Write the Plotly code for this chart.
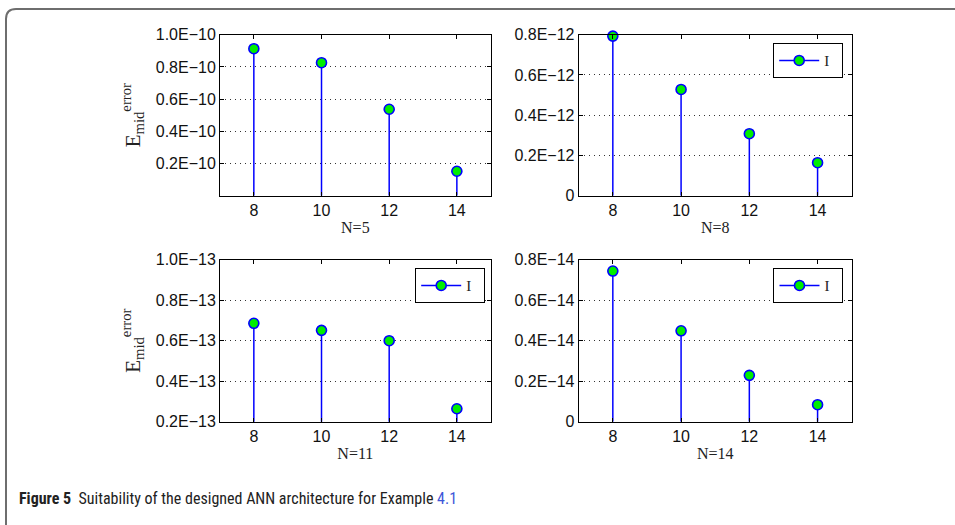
import plotly.graph_objects as go

W, H = 955, 525

# ---------------- data ----------------
N_values = [8, 10, 12, 14]
err_N5 = [0.913e-10, 0.826e-10, 0.537e-10, 0.152e-10]
err_N8 = [0.793e-12, 0.528e-12, 0.308e-12, 0.164e-12]
err_N11 = [0.686e-13, 0.651e-13, 0.600e-13, 0.264e-13]
err_N14 = [0.744e-14, 0.449e-14, 0.229e-14, 0.084e-14]

ticks_N5 = [0.2e-10, 0.4e-10, 0.6e-10, 0.8e-10, 1.0e-10]
ticklabels_N5 = ["0.2E−10", "0.4E−10", "0.6E−10", "0.8E−10", "1.0E−10"]
ticks_N8 = [0, 0.2e-12, 0.4e-12, 0.6e-12, 0.8e-12]
ticklabels_N8 = ["0", "0.2E−12", "0.4E−12", "0.6E−12", "0.8E−12"]
ticks_N11 = [0.2e-13, 0.4e-13, 0.6e-13, 0.8e-13, 1.0e-13]
ticklabels_N11 = ["0.2E−13", "0.4E−13", "0.6E−13", "0.8E−13", "1.0E−13"]
ticks_N14 = [0, 0.2e-14, 0.4e-14, 0.6e-14, 0.8e-14]
ticklabels_N14 = ["0", "0.2E−14", "0.4E−14", "0.6E−14", "0.8E−14"]

x_ticks = [8, 10, 12, 14]
panel_titles = ["N=5", "N=8", "N=11", "N=14"]
legend_name = "I"

# ---------------- styling ----------------
STEM = "#0000ff"
FILL = "#00ee00"
TICKFONT = dict(family="Liberation Sans, Arial, sans-serif", size=16, color="#111")
SERIF = "Liberation Serif, Times New Roman, serif"


def px_x(p):
    return p / W


def px_y(p):
    return 1 - p / H


# panel pixel boxes (left, right, top, bottom)
boxes = [
    (220, 490.7, 34.7, 195.7),
    (578.7, 851.7, 34.7, 195.7),
    (220, 490.7, 259.7, 421.7),
    (578.7, 851.7, 259.7, 421.7),
]
yranges = [[0, 1.0e-10], [0, 0.8e-12], [0.2e-13, 1.0e-13], [0, 0.8e-14]]
series = [err_N5, err_N8, err_N11, err_N14]
yticks = [(ticks_N5, ticklabels_N5), (ticks_N8, ticklabels_N8),
          (ticks_N11, ticklabels_N11), (ticks_N14, ticklabels_N14)]
legends = [None, "legend", "legend2", "legend3"]
legend_pos = [None, (843, 43), (485, 268), (843.3, 268)]

fig = go.Figure()
layout = {}

for i in range(4):
    vals = series[i]
    xs, ys, mcol, mline = [], [], [], []
    for xv, yv in zip(N_values, vals):
        xs += [xv, xv, None]
        ys += [yv, 0, None]
        mcol += [FILL, "rgba(0,0,0,0)", "rgba(0,0,0,0)"]
        mline += [STEM, "rgba(0,0,0,0)", "rgba(0,0,0,0)"]
    ax = "" if i == 0 else str(i + 1)
    tr = go.Scatter(
        x=xs, y=ys, mode="lines+markers", name=legend_name + "\u00a0\u00a0",
        line=dict(color=STEM, width=1.5),
        marker=dict(size=10, color=mcol, line=dict(color=mline, width=1.6)),
        xaxis="x" + ax, yaxis="y" + ax,
        showlegend=legends[i] is not None,
        connectgaps=False, cliponaxis=False,
    )
    if legends[i] is not None:
        tr.legend = legends[i]
    fig.add_trace(tr)

    l, r, t, b = boxes[i]
    xa = dict(
        domain=[px_x(l), px_x(r)], range=[7, 15], tickvals=x_ticks,
        ticktext=[str(v) for v in x_ticks],
        showline=True, mirror="ticks", linecolor="black", linewidth=1,
        ticks="inside", ticklen=4, tickcolor="black", showgrid=False,
        zeroline=False, tickfont=TICKFONT, automargin=False,
        anchor="y" + ax,
        title=dict(text=panel_titles[i], font=dict(family=SERIF, size=16, color="#222"),
                   standoff=3),
    )
    ya = dict(
        domain=[px_y(b), px_y(t)], range=yranges[i],
        tickvals=yticks[i][0], ticktext=yticks[i][1],
        showline=True, mirror="ticks", linecolor="black", linewidth=1,
        ticks="inside", ticklen=4, tickcolor="black",
        showgrid=True, gridcolor="#333", griddash="1px,4px", gridwidth=1,
        zeroline=False, tickfont=TICKFONT, automargin=False,
        anchor="x" + ax,
    )
    if i in (0, 2):
        ya["title"] = dict(text="E<sub>mid</sub><sup>error</sup>",
                           font=dict(family=SERIF, size=21, color="#222"), standoff=9)
    layout["xaxis" + ax] = xa
    layout["yaxis" + ax] = ya

    if legends[i] is not None:
        lx, ly = legend_pos[i]
        layout[legends[i]] = dict(
            x=px_x(lx), y=px_y(ly), xanchor="right", yanchor="top",
            xref="paper", yref="paper",
            bgcolor="white", bordercolor="black", borderwidth=1.2,
            font=dict(family=SERIF, size=15, color="#222"),
            itemwidth=40,
        )

fig.update_layout(**layout)

# rounded frame around the figure
r = 10
x0 = px_x(6)
ytop = px_y(9)
ybot = px_y(H + 12)
xr = px_x(W + 20)
path = (f"M {x0},{ybot} L {x0},{px_y(9 + r)} Q {x0},{ytop} {px_x(6 + r)},{ytop} "
        f"L {xr},{ytop}")
fig.add_shape(type="path", path=path, xref="paper", yref="paper",
              line=dict(color="#6e6e6e", width=2))

fig.add_annotation(
    x=px_x(17), y=px_y(498), xref="paper", yref="paper",
    xanchor="left", yanchor="middle", showarrow=False,
    text="<b>Figure 5</b>  Suitability of the designed ANN architecture for Example "
         "<span style='color:#3d55d8'>4.1</span>",
    font=dict(family="Liberation Sans Narrow, Roboto Condensed, Roboto, sans-serif",
              size=16, color="#222"),
)

fig.update_layout(
    width=W, height=H, margin=dict(l=0, r=0, t=0, b=0),
    paper_bgcolor="white", plot_bgcolor="white",
)

fig.write_html("out.html")
